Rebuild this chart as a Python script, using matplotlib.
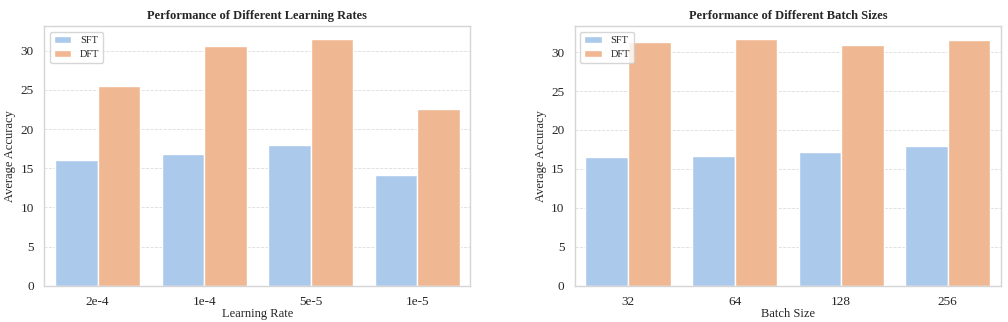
import matplotlib
matplotlib.use('Agg')
import matplotlib.pyplot as plt
import numpy as np
import seaborn as sns
from pandas import DataFrame

learning_rates = ['2e-4', '1e-4', '5e-5', '1e-5']
lr_sft = [16.0, 16.8, 18.0, 14.2]
lr_dft = [25.5, 30.6, 31.5, 22.6]

batch_sizes = ['32', '64', '128', '256']
bs_sft = [16.5, 16.7, 17.2, 17.9]
bs_dft = [31.3, 31.7, 30.9, 31.5]

methods = ['SFT', 'DFT']

sns.set_theme(style='whitegrid', palette='pastel')
plt.rcParams['font.family'] = ['Liberation Serif', 'DejaVu Serif']


def make_frame(cats, sft, dft):
    rows = []
    for c, s, d in zip(cats, sft, dft):
        rows.append({'cat': c, 'Method': 'SFT', 'acc': s})
        rows.append({'cat': c, 'Method': 'DFT', 'acc': d})
    return DataFrame(rows)


def draw(ax, df, title, xlabel):
    sns.barplot(data=df, x='cat', y='acc', hue='Method', hue_order=methods,
                ax=ax, edgecolor='white', linewidth=1.0, errorbar=None)
    ax.set_title(title, fontsize=9, fontweight='bold', pad=5)
    ax.set_xlabel(xlabel, fontsize=9, labelpad=0)
    ax.set_ylabel('Average Accuracy', fontsize=9, labelpad=3)
    ax.tick_params(axis='both', labelsize=9.5, pad=1.5)
    ax.grid(axis='x', visible=False)
    ax.grid(axis='y', linestyle='--', linewidth=0.6, color='#dddddd')
    ax.set_axisbelow(True)
    ax.set_yticks([0, 5, 10, 15, 20, 25, 30])
    for s in ax.spines.values():
        s.set_color('#d5d5d5')
        s.set_linewidth(1.0)
    ax.legend(loc='upper left', fontsize=7.5, frameon=True,
              handlelength=1.7, borderpad=0.4, labelspacing=0.45)


fig, axs = plt.subplots(1, 2, figsize=(10.08, 3.22), dpi=100)
fig.subplots_adjust(left=0.044, right=0.993, top=0.918, bottom=0.112, wspace=0.245)

draw(axs[0], make_frame(learning_rates, lr_sft, lr_dft),
     'Performance of Different Learning Rates', 'Learning Rate')
draw(axs[1], make_frame(batch_sizes, bs_sft, bs_dft),
     'Performance of Different Batch Sizes', 'Batch Size')

fig.savefig('out.png', dpi=100)
